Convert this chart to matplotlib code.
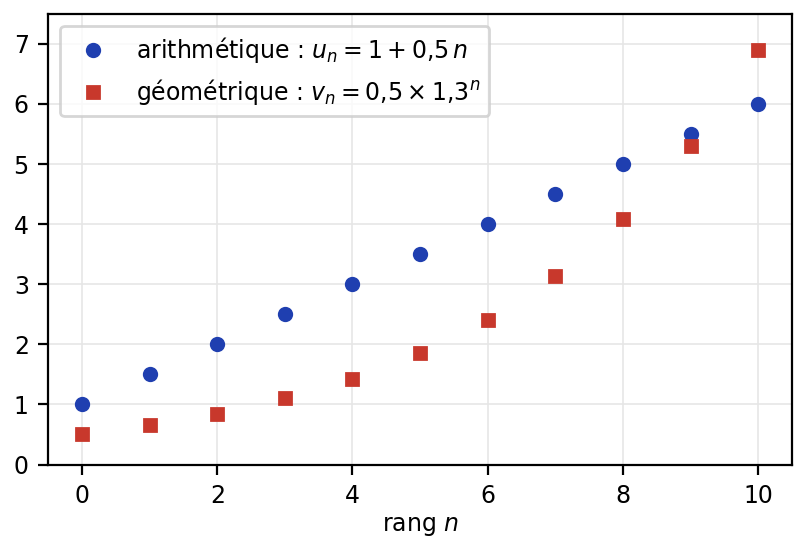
import matplotlib
matplotlib.use("Agg")
import matplotlib.pyplot as plt

n = list(range(11))
u = [1.0, 1.5, 2.0, 2.5, 3.0, 3.5, 4.0, 4.5, 5.0, 5.5, 6.0]
v = [0.5, 0.65, 0.845, 1.10, 1.43, 1.86, 2.41, 3.14, 4.08, 5.30, 6.89]

plt.rcParams['font.size'] = 8.5
fig, ax = plt.subplots(figsize=(4.02, 2.765), dpi=200)
ax.plot(n, u, 'o', color='#1f3fb0', markersize=4.5, label=r'arithmétique : $u_n = 1 + 0{,}5\,n$')
ax.plot(n, v, 's', color='#c8382c', markersize=4.2, label=r'géométrique : $v_n = 0{,}5 \times 1{,}3^n$')
ax.set_xlim(-0.5, 10.5)
ax.set_ylim(0, 7.5)
ax.set_xticks([0, 2, 4, 6, 8, 10])
ax.grid(True, color='#e6e6e6', linewidth=0.6)
ax.set_axisbelow(True)
ax.set_xlabel(r'rang $n$', labelpad=2)
ax.legend(loc='upper left')
fig.subplots_adjust(left=0.06, right=0.985, bottom=0.16, top=0.975)
fig.savefig('out.png', dpi=200)
